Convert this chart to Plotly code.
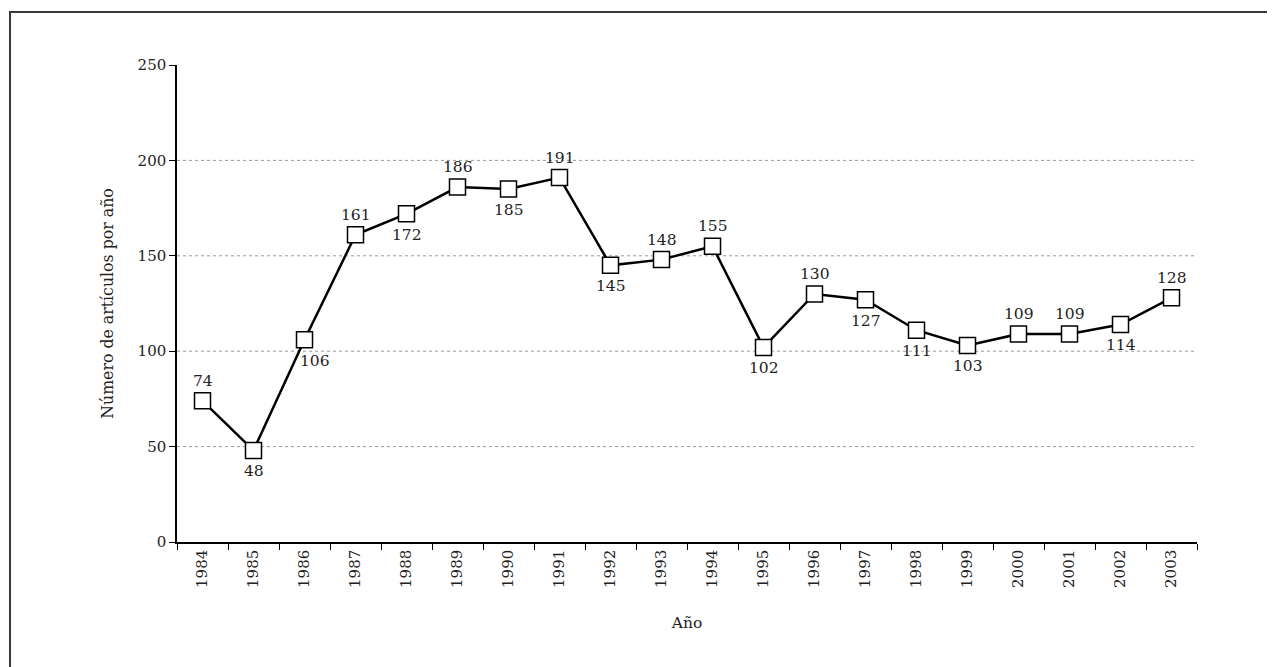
import plotly.graph_objects as go

years = [str(y) for y in range(1984, 2004)]
values = [74, 48, 106, 161, 172, 186, 185, 191, 145, 148, 155, 102, 130, 127, 111, 103, 109, 109, 114, 128]
label_side = ["top", "bottom", "bottom", "top", "bottom", "top", "bottom", "top", "bottom", "top",
              "top", "bottom", "top", "bottom", "bottom", "bottom", "top", "top", "bottom", "top"]
grid_values = [50, 100, 150, 200]
y_ticks = [0, 50, 100, 150, 200, 250]

FONT = "DejaVu Serif"
L, T, PW, PH = 169, 57, 1020, 477
fig = go.Figure()

for g in grid_values:
    fig.add_shape(type="line", xref="paper", x0=0, x1=1, yref="y", y0=g, y1=g,
                  line=dict(color="#999999", width=1, dash="dot"), layer="below")

fig.add_trace(go.Scatter(
    x=years, y=values, mode="lines+markers",
    line=dict(color="black", width=2.5),
    marker=dict(symbol="square", size=16, color="white", line=dict(color="black", width=1.5)),
    hoverinfo="x+y", showlegend=False,
))

for i, (yr, v, side) in enumerate(zip(years, values, label_side)):
    xs = 10 if yr == "1986" else 0
    fig.add_annotation(x=i, y=v, xref="x", yref="y", text=str(v), showarrow=False,
                       yshift=20 if side == "top" else -21, xshift=xs,
                       font=dict(family=FONT, size=15.5, color="#222222"))

# outer frame
fig.add_shape(type="rect", xref="paper", yref="paper",
              x0=(2 - L) / PW, x1=1.2, y0=-0.4, y1=(T + PH - 4) / PH,
              line=dict(color="#3a3a3a", width=2), layer="below")

fig.update_layout(
    width=1275, height=667,
    margin=dict(l=L, r=1275 - L - PW, t=T, b=667 - T - PH),
    paper_bgcolor="white", plot_bgcolor="white",
    font=dict(family=FONT, size=15, color="#222222"),
    xaxis=dict(type="category", tickson="boundaries", ticks="outside", ticklen=6,
               tickcolor="black", showline=True, linecolor="black", linewidth=1.5,
               showgrid=False, tickangle=-90, range=[-0.5, 19.5],
               title=dict(text="Año", standoff=30, font=dict(size=15.5))),
    yaxis=dict(range=[0, 250], tickvals=y_ticks, ticks="outside", ticklen=6,
               tickcolor="black", showline=True, linecolor="black", linewidth=1.5,
               showgrid=False, zeroline=False,
               title=dict(text="Número de artículos por año", standoff=20, font=dict(size=15.75))),
)

fig.write_html("out.html")
